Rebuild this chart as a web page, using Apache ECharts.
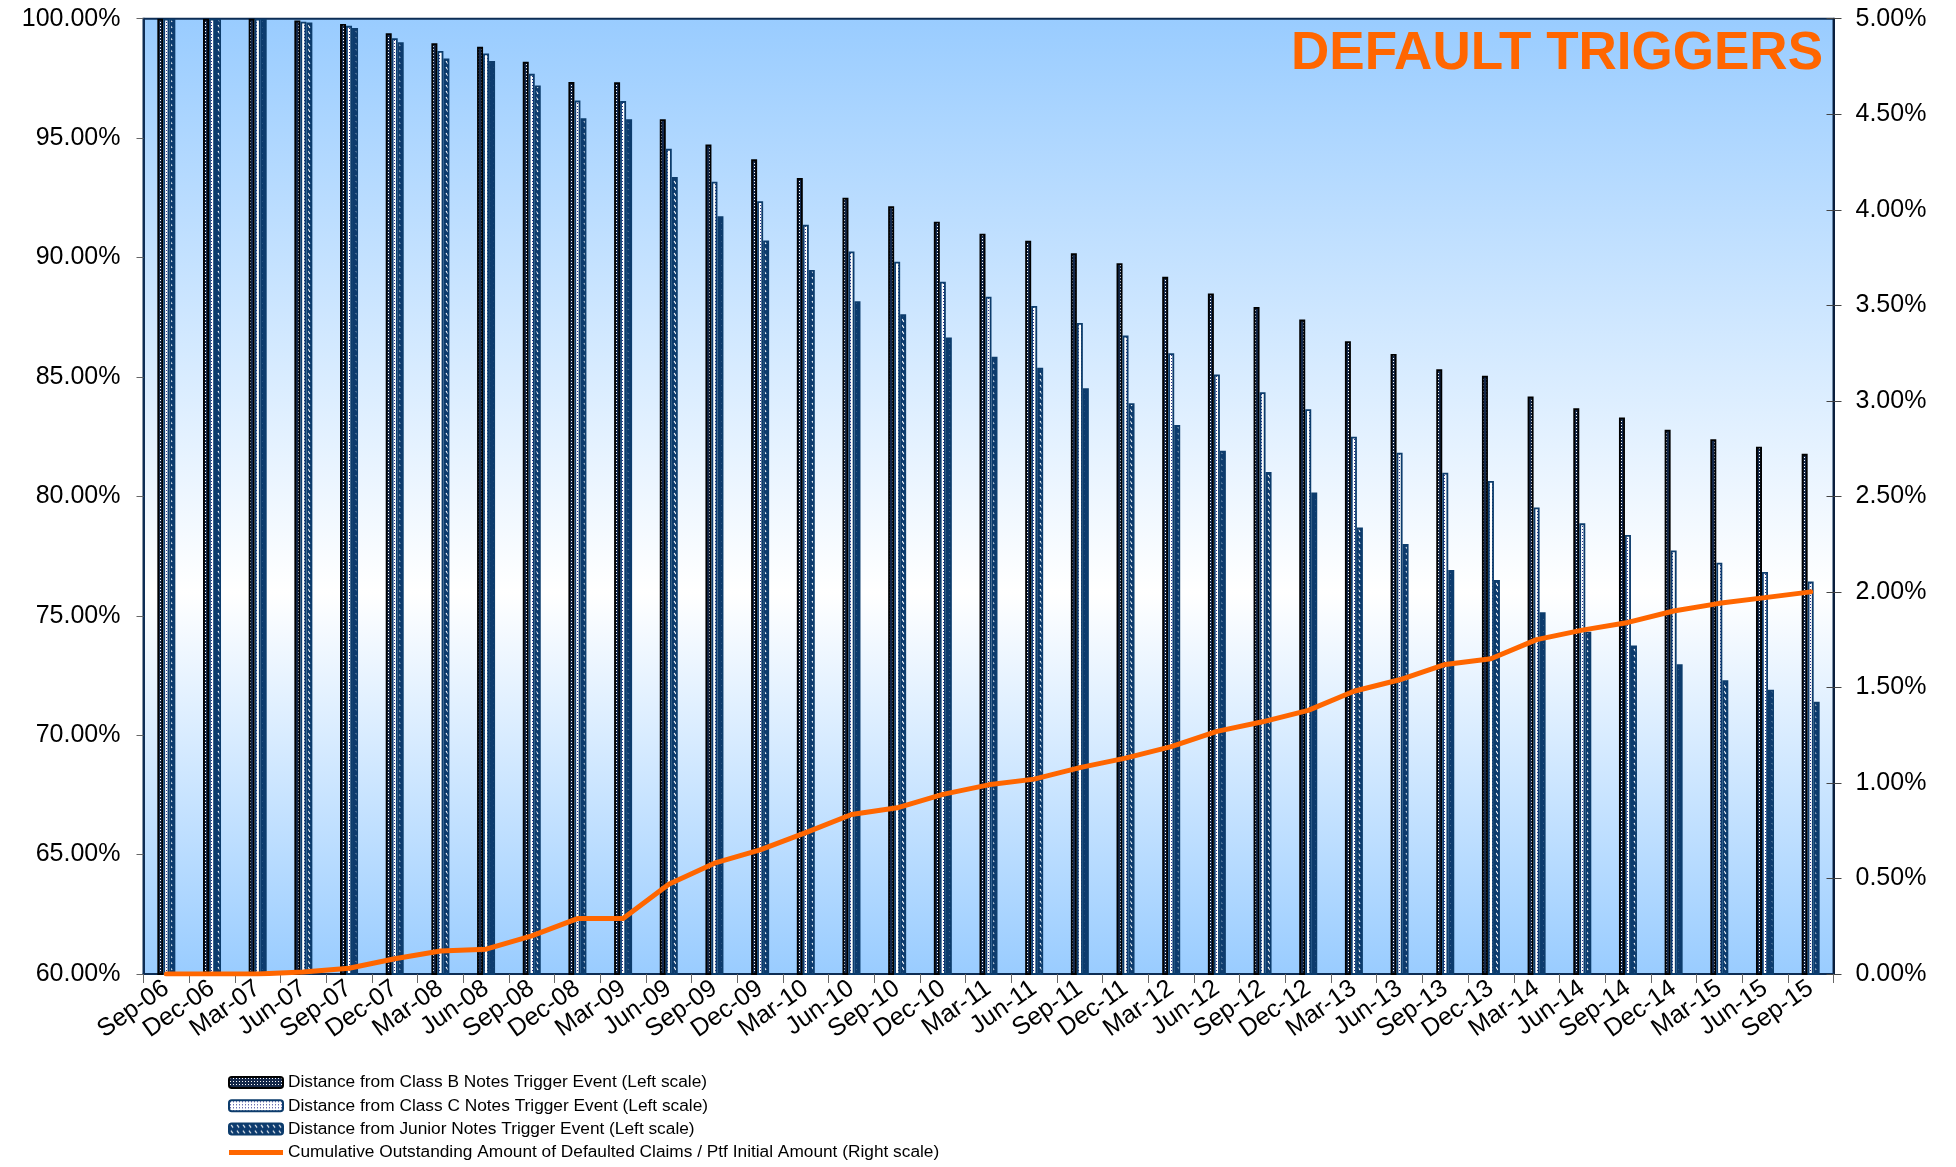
<!DOCTYPE html>
<html>
<head>
<meta charset="utf-8">
<script src="https://cdn.jsdelivr.net/npm/echarts@6/dist/echarts.min.js"></script>
<style>
html,body{margin:0;padding:0;background:#fff;}
#chart{width:1956px;height:1167px;}
</style>
</head>
<body>
<div id="chart"></div>
<script>
const categories = ['Sep-06','Dec-06','Mar-07','Jun-07','Sep-07','Dec-07','Mar-08','Jun-08','Sep-08','Dec-08','Mar-09','Jun-09','Sep-09','Dec-09','Mar-10','Jun-10','Sep-10','Dec-10','Mar-11','Jun-11','Sep-11','Dec-11','Mar-12','Jun-12','Sep-12','Dec-12','Mar-13','Jun-13','Sep-13','Dec-13','Mar-14','Jun-14','Sep-14','Dec-14','Mar-15','Jun-15','Sep-15'];
const classB = [100,100,100,99.92,99.78,99.39,98.97,98.83,98.20,97.35,97.34,95.79,94.73,94.11,93.33,92.50,92.15,91.50,91.00,90.70,90.18,89.76,89.19,88.49,87.93,87.40,86.49,85.96,85.32,85.05,84.18,83.69,83.30,82.79,82.39,82.08,81.78];
const classC = [100,100,100,99.87,99.70,99.18,98.65,98.54,97.69,96.57,96.55,94.55,93.17,92.36,91.37,90.25,89.82,88.99,88.36,87.97,87.26,86.73,85.99,85.10,84.36,83.65,82.50,81.83,80.99,80.64,79.53,78.87,78.38,77.73,77.22,76.83,76.43];
const junior = [100,100,100,99.84,99.61,99.01,98.33,98.23,97.20,95.83,95.79,93.37,91.73,90.71,89.48,88.17,87.63,86.65,85.85,85.38,84.53,83.90,82.99,81.91,81.02,80.16,78.70,78.00,76.92,76.50,75.15,74.33,73.75,72.97,72.30,71.90,71.40];
const cumDefaults = [0,0,0,0.01,0.03,0.08,0.12,0.13,0.20,0.29,0.29,0.47,0.58,0.65,0.74,0.835,0.87,0.94,0.99,1.02,1.08,1.13,1.19,1.27,1.32,1.38,1.48,1.54,1.62,1.65,1.75,1.80,1.84,1.90,1.94,1.97,2.00];
const leftTicks = {min:60, max:100, interval:5};
const rightTicks = {min:0, max:5, interval:0.5};
const seriesNames = ['Distance from Class B Notes Trigger Event (Left scale)','Distance from Class C Notes Trigger Event (Left scale)','Distance from Junior Notes Trigger Event (Left scale)','Cumulative Outstanding Amount of Defaulted Claims / Ptf Initial Amount (Right scale)'];

function pat(w,h,draw){const c=document.createElement('canvas');c.width=w;c.height=h;const g=c.getContext('2d');draw(g);return c;}
const patB = pat(3,3,g=>{g.fillStyle='#14284a';g.fillRect(0,0,3,3);g.fillStyle='#ffffff';g.fillRect(1,1,1,1);});
const patC = pat(3,3,g=>{g.fillStyle='#ffffff';g.fillRect(0,0,3,3);g.fillStyle='#2a2f8f';g.fillRect(1,1,1,1);});
const patJ = pat(6,6,g=>{g.fillStyle='#0d3b6e';g.fillRect(0,0,6,6);g.strokeStyle='#ffffff';g.lineWidth=1.2;g.beginPath();g.moveTo(2,1);g.lineTo(4,4);g.stroke();});

const chart = echarts.init(document.getElementById('chart'));
const font = 'Liberation Sans, Arial, sans-serif';
chart.setOption({
  animation:false,
  title:{text:'DEFAULT TRIGGERS',right:128,top:23,textStyle:{color:'#FF6600',fontSize:53,fontWeight:'bold',fontFamily:font}},
  grid:{left:143.5,right:122.5,top:18.7,bottom:193,show:true,borderColor:'#0d2d55',borderWidth:2,
    backgroundColor:new echarts.graphic.LinearGradient(0,0,0,1,[{offset:0,color:'#99CCFF'},{offset:0.6,color:'#FFFFFF'},{offset:1,color:'#99CCFF'}])},
  legend:{orient:'vertical',left:228,top:1074,height:93,padding:0,itemWidth:54,itemHeight:11,itemGap:6.3,
    textStyle:{fontSize:17.3,fontFamily:font,color:'#000'},
    data:[seriesNames[0],seriesNames[1],seriesNames[2],{name:seriesNames[3],icon:'path://M0,0 L54,0 L54,5 L0,5 Z'}]},
  xAxis:{type:'category',data:categories,boundaryGap:true,
    axisLine:{lineStyle:{color:'#0d2d55',width:2}},
    axisTick:{show:true,interval:0,length:9,lineStyle:{color:'#666'}},
    axisLabel:{interval:0,rotate:35,margin:12,fontSize:25,fontFamily:font,color:'#000'}},
  yAxis:[
    {type:'value',position:'left',min:leftTicks.min,max:leftTicks.max,interval:leftTicks.interval,splitLine:{show:false},
      axisLine:{show:true,lineStyle:{color:'#0d2d55',width:2}},axisTick:{show:true,length:7,lineStyle:{color:'#666'}},
      axisLabel:{margin:23,fontSize:25,fontFamily:font,color:'#000',formatter:v=>v.toFixed(2)+'%'}},
    {type:'value',position:'right',min:rightTicks.min,max:rightTicks.max,interval:rightTicks.interval,splitLine:{show:false},
      axisLine:{show:true,lineStyle:{color:'#0a1e3c',width:2}},axisTick:{show:true,length:8,lineStyle:{color:'#444'}},
      axisLabel:{margin:22,fontSize:25,fontFamily:font,color:'#000',formatter:v=>v.toFixed(2)+'%'}},
    {type:'value',position:'right',min:rightTicks.min,max:rightTicks.max,interval:rightTicks.interval,splitLine:{show:false},
      axisLine:{show:false},axisTick:{show:true,inside:true,length:7,lineStyle:{color:'#444'}},axisLabel:{show:false}}
  ],
  series:[
    {name:seriesNames[0],type:'bar',yAxisIndex:0,data:classB,barWidth:6,barGap:'0%',
      itemStyle:{color:{image:patB,repeat:'repeat'},borderColor:'#000',borderWidth:1.8}},
    {name:seriesNames[1],type:'bar',yAxisIndex:0,data:classC,barWidth:6,barGap:'0%',
      itemStyle:{color:{image:patC,repeat:'repeat'},borderColor:'#0c3c6c',borderWidth:1.8}},
    {name:seriesNames[2],type:'bar',yAxisIndex:0,data:junior,barWidth:6,barGap:'0%',
      itemStyle:{color:{image:patJ,repeat:'repeat'},borderColor:'#0c3c6c',borderWidth:1.8}},
    {name:seriesNames[3],type:'line',yAxisIndex:1,data:cumDefaults,symbol:'none',
      lineStyle:{color:'#FF6600',width:5,cap:'round',join:'round'},itemStyle:{color:'#FF6600'}}
  ]
});
</script>
</body>
</html>
